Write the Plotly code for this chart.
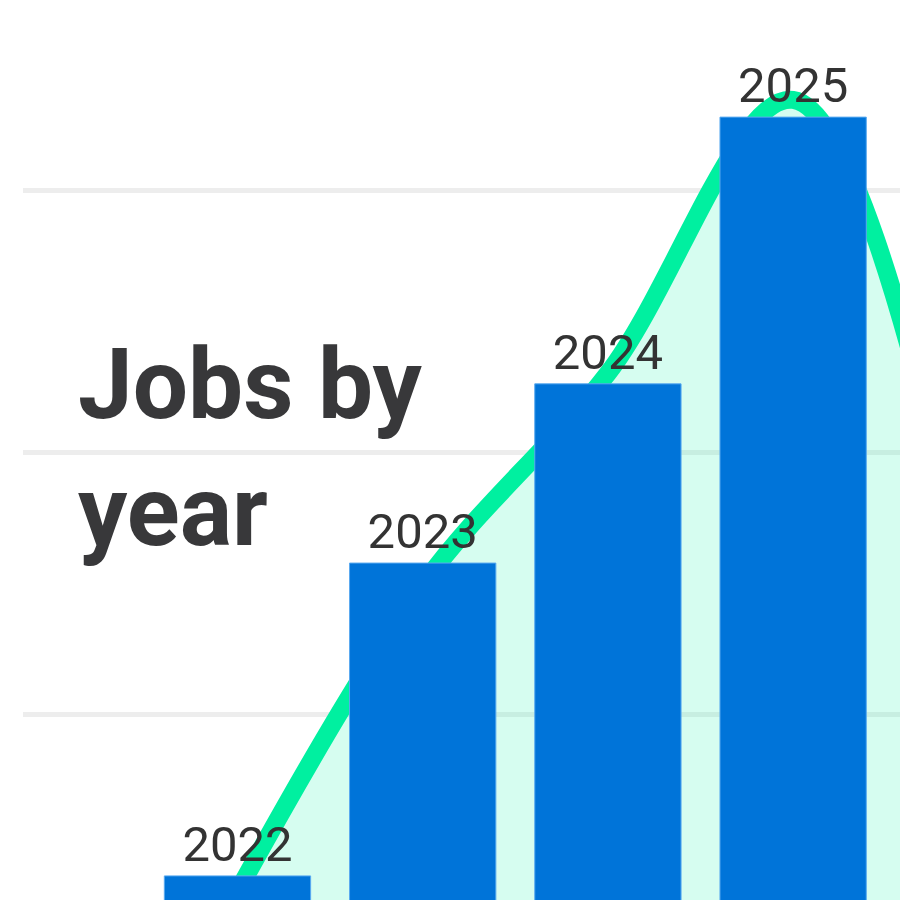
import plotly.graph_objects as go

# ---- data ----
years = ['2022', '2023', '2024', '2025']
jobs = [19.2, 78.9, 113.1, 164.0]
trend_years = ['2022', '2023', '2024', '2025', '2026']
trend_values = [16.2, 74.8, 115.1, 167.3, 64.9]
title_text = 'Jobs by<br>year'

fig = go.Figure()
fig.add_trace(go.Scatter(
    x=trend_years, y=trend_values, mode='lines',
    line=dict(shape='spline', color='#00F0A0', width=18),
    fill='tozeroy', fillcolor='rgba(0,240,160,0.16)', yaxis='y', hoverinfo='skip'))
fig.add_trace(go.Bar(
    x=years, y=jobs, text=years, textposition='outside',
    textfont=dict(family='Roboto', size=49, color='#333333'),
    marker=dict(color='#0074D9', line=dict(color='#5aaaf0', width=1)),
    yaxis='y2', cliponaxis=False))

rng = [14.6, 186.35]
fig.update_layout(
    width=900, height=900, margin=dict(l=23, r=0, t=0, b=0), showlegend=False,
    plot_bgcolor='white', paper_bgcolor='white', bargap=0.21,
    xaxis=dict(type='category', categoryarray=trend_years, range=[-1.158, 3.577],
               showticklabels=False, showgrid=False, zeroline=False, showline=False),
    yaxis=dict(range=rng, tick0=0, dtick=50, showgrid=True, gridcolor='#ededed', gridwidth=5,
               showticklabels=False, zeroline=False, showline=False),
    yaxis2=dict(range=rng, overlaying='y', visible=False),
)
fig.add_annotation(
    text=title_text, xref='paper', yref='paper', x=0.0604, y=0.639,
    xanchor='left', yanchor='top', align='left', showarrow=False,
    font=dict(family='Roboto', size=98, color='#38383a', weight='bold'))
fig.write_html('out.html')
